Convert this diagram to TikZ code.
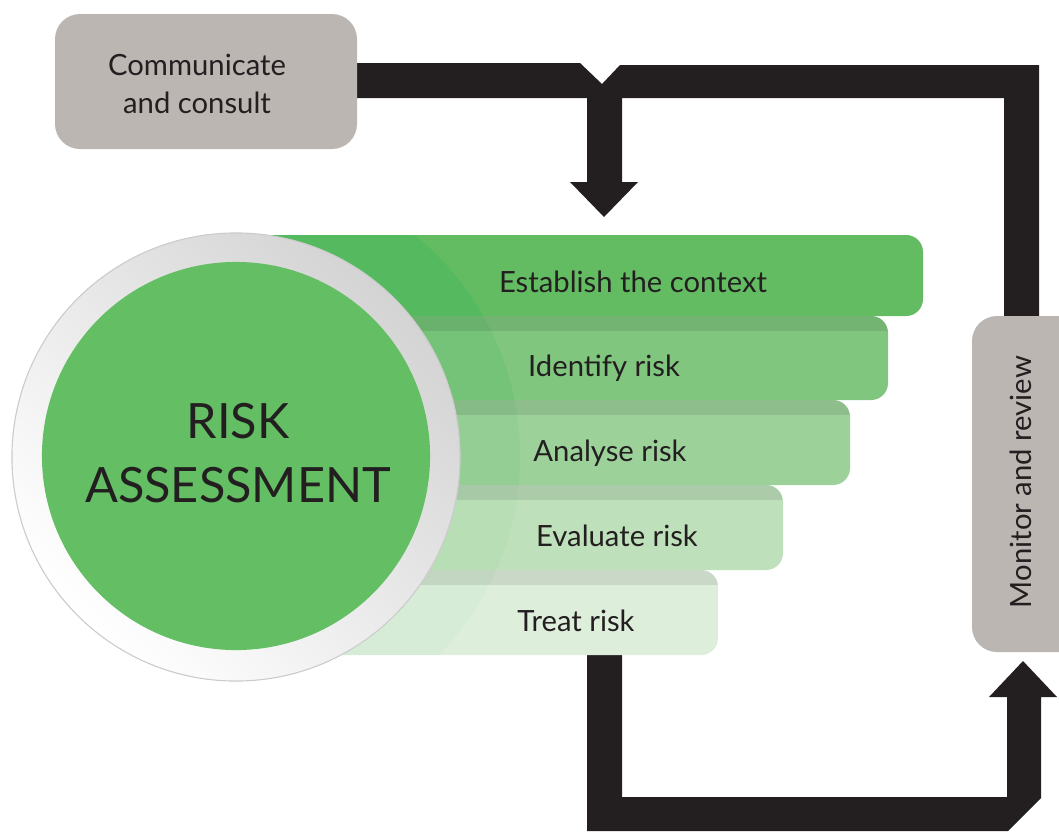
\documentclass[tikz,border=0pt]{standalone}
\usepackage{fontspec}
\setmainfont{Lato}
\usetikzlibrary{calc}

\definecolor{ink}{RGB}{35,31,32}
\definecolor{boxgray}{RGB}{187,182,178}
\definecolor{gA}{RGB}{99,188,98}
\definecolor{gB}{RGB}{128,198,126}
\definecolor{gC}{RGB}{157,209,154}
\definecolor{gD}{RGB}{190,224,186}
\definecolor{gE}{RGB}{221,238,219}
\definecolor{arcgreen}{RGB}{40,178,90}
\definecolor{circgreen}{RGB}{99,190,100}

\tikzset{
  steptext/.style={text=ink, font=\fontsize{20.8}{27}\selectfont},
  graybox/.style={fill=boxgray, rounded corners=0.625cm},
}

\begin{document}
\begin{tikzpicture}[x=0.025cm, y=-0.025cm]
\clip (0,0) rectangle (1059,831);

% upper loop with the feed down into the steps
\fill[ink] (330,63) -- (580,63) -- (602,84) -- (620,65) -- (1039,65)
  -- (1039,330) -- (1004,330) -- (1004,98) -- (622,98) -- (622,182)
  -- (638,182) -- (604,217) -- (570,182) -- (587,182) -- (587,98)
  -- (330,98) -- cycle;
% lower loop back up to monitoring
\fill[ink] (587,640) -- (622,640) -- (622,797) -- (1007,797) -- (1007,697)
  -- (989,697) -- (1023,661) -- (1057,697) -- (1041,697) -- (1041,798)
  -- (1008,831) -- (587,831) -- cycle;

% side boxes
\fill[graybox] (55,14) rectangle (357,149);
\node[steptext, align=center] (comm) at (197,84) {Communicate\\and consult};
\fill[graybox] (972,316) rectangle (1100,652);
\node[steptext, rotate=90] (monitor) at (1021,482) {Monitor and review};

% the five steps
\foreach \ya/\yb/\xr/\clr/\op/\nm/\tx/\txt [count=\i] in {
    235/316/923/gA/.25/context/633/Establish the context,
    316/400/888/gB/.12/identify/604/Identify risk,
    400/485/850/gC/.07/analyse/610/Analyse risk,
    485/570/783/gD/.04/evaluate/617/Evaluate risk,
    570/655/718/gE/.03/treat/576/Treat risk}
{
  \fill[\clr, rounded corners=12] (240,\ya) rectangle (\xr,\yb);
  \begin{scope}
    \clip[rounded corners=12] (240,\ya) rectangle (\xr,\yb);
    \fill[arcgreen, opacity=\op] (236,456) circle (7.1cm);
    \ifnum\i>1 \fill[black, opacity=.09] (240,\ya) rectangle (\xr,\ya+15); \fi
  \end{scope}
  \node[steptext, anchor=base] (\nm) at (\tx,\yb-24) {\txt};
}

% big disc
\shade[top color=black!17, bottom color=white, shading angle=-45] (236,457) circle (5.6cm);
\draw[black!20, line width=0.8pt] (236,457) circle (5.6cm);
\fill[circgreen] (236,456) circle (4.85cm);
\node[text=ink, align=center, font=\fontsize{34.6}{45.4}\selectfont] (risk) at (238,453) {RISK\\ASSESSMENT};
\end{tikzpicture}
\end{document}
